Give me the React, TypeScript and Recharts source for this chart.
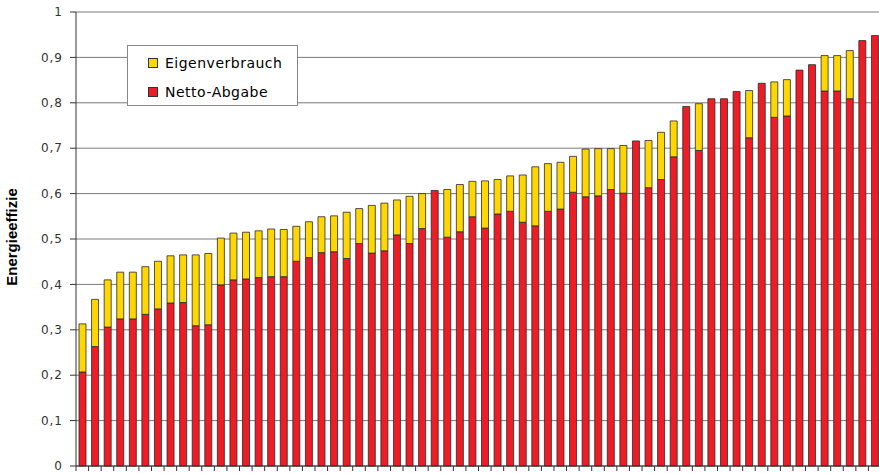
import { BarChart, Bar, XAxis, YAxis, CartesianGrid, Label } from "recharts"

// one entry per plant, sorted by total efficiency
const NETTO = [
  0.207, 0.263, 0.306, 0.324, 0.324, 0.334, 0.346, 0.359, 0.36, 0.309, 0.311, 0.399, 0.41, 0.412, 0.415, 0.417,
  0.417, 0.451, 0.459, 0.47, 0.472, 0.457, 0.49, 0.469, 0.474, 0.509, 0.49, 0.523, 0.607, 0.504, 0.516, 0.549,
  0.524, 0.555, 0.561, 0.537, 0.529, 0.561, 0.566, 0.603, 0.593, 0.595, 0.609, 0.601, 0.716, 0.613, 0.631, 0.681,
  0.792, 0.695, 0.809, 0.809, 0.825, 0.723, 0.843, 0.768, 0.771, 0.872, 0.884, 0.826, 0.826, 0.809, 0.937, 0.948,
]
const EIGEN = [
  0.106, 0.104, 0.104, 0.103, 0.103, 0.105, 0.105, 0.104, 0.105, 0.156, 0.157, 0.103, 0.103, 0.103, 0.103, 0.105,
  0.104, 0.077, 0.079, 0.079, 0.079, 0.102, 0.077, 0.105, 0.105, 0.077, 0.104, 0.077, 0, 0.105, 0.104, 0.078,
  0.104, 0.076, 0.078, 0.104, 0.13, 0.105, 0.103, 0.079, 0.105, 0.104, 0.09, 0.105, 0, 0.104, 0.104, 0.079,
  0, 0.103, 0, 0, 0, 0.104, 0, 0.078, 0.08, 0, 0, 0.078, 0.078, 0.106, 0, 0,
]
const Y_TICKS = [0, 0.1, 0.2, 0.3, 0.4, 0.5, 0.6, 0.7, 0.8, 0.9, 1]

const data = NETTO.map((n, i) => ({ id: i + 1, netto: n, eigen: EIGEN[i] }))

const W = 881
const H = 473
const LEFT = 76
const HALF_BAND = (W - LEFT) / NETTO.length / 2

const RED = "#ee1c25"
const YELLOW = "#ffd700"

const BoundaryTick = (props: any) => {
  const { x, y } = props
  return <line x1={x - HALF_BAND} x2={x - HALF_BAND} y1={y - 5} y2={y} stroke="#333" strokeWidth={1} />
}

// legend sits on top of the plot, like the spreadsheet original
const LegendBox = () => {
  const items = [
    { label: "Eigenverbrauch", color: YELLOW },
    { label: "Netto-Abgabe", color: RED },
  ]
  return (
    <div
      style={{
        position: "absolute",
        left: 127,
        top: 45,
        width: 171,
        height: 61,
        background: "#fff",
        border: "1px solid #888",
        boxSizing: "border-box",
        padding: "2px 0 0 20px",
        fontFamily: "DejaVu Sans, sans-serif",
        fontSize: 14,
        letterSpacing: 0.5,
        color: "#000",
        lineHeight: "16px",
      }}
    >
      {items.map((it) => (
        <div key={it.label} style={{ display: "flex", alignItems: "center", height: 29 }}>
          <span
            style={{
              display: "inline-block",
              width: 8,
              height: 8,
              background: it.color,
              border: "1px solid #333",
              marginRight: 7,
              flex: "none",
            }}
          />
          {it.label}
        </div>
      ))}
    </div>
  )
}

export default function App() {
  return (
    <div style={{ position: "absolute", left: 0, top: 0, width: 879, height: H, overflow: "hidden", background: "#fff" }}>
      <BarChart width={W} height={H} data={data} margin={{ top: 12, right: 0, bottom: 0, left: 0 }}>
        <CartesianGrid vertical={false} stroke="#7a7a7a" />
        <XAxis
          dataKey="id"
          height={7}
          tickSize={5}
          tickMargin={0}
          tickLine={false}
          tick={<BoundaryTick />}
          interval={0}
          axisLine={{ stroke: "#333" }}
        />
        <YAxis
          width={LEFT}
          domain={[0, 1]}
          ticks={Y_TICKS}
          interval={0}
          tickSize={6}
          tickMargin={7}
          axisLine={{ stroke: "#333" }}
          tickLine={{ stroke: "#333" }}
          tickFormatter={(v: number) => String(v).replace(".", ",")}
          tick={{ fontFamily: "DejaVu Sans, sans-serif", fontSize: 12, letterSpacing: 1, fill: "#333" }}
        >
          <Label
            content={() => (
              <text
                x={17}
                y={237}
                transform="rotate(-90, 17, 237)"
                textAnchor="middle"
                fontFamily="Liberation Sans, Arial, sans-serif"
                fontWeight="bold"
                fontSize={15}
                fill="#000"
              >
                Energieeffizie
              </text>
            )}
          />
        </YAxis>
        <Bar dataKey="netto" name="Netto-Abgabe" stackId="a" fill={RED} stroke="#2a2a2a" strokeWidth={0.8} barSize={7} isAnimationActive={false} />
        <Bar dataKey="eigen" name="Eigenverbrauch" stackId="a" fill={YELLOW} stroke="#2a2a2a" strokeWidth={0.8} barSize={7} isAnimationActive={false} />
      </BarChart>
      <LegendBox />
    </div>
  )
}
